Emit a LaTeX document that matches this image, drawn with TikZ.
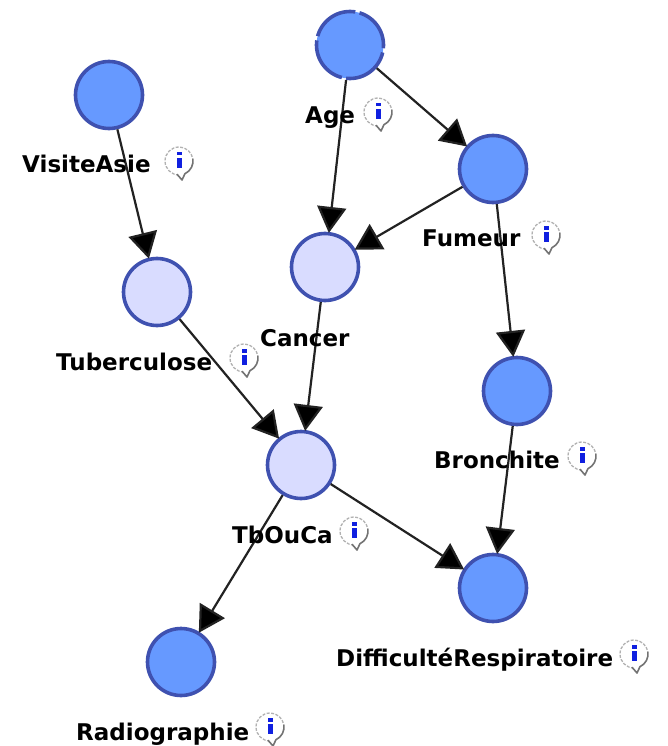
\documentclass[tikz,border=0pt]{standalone}
\usepackage{fontspec}
\setmainfont{DejaVu Sans}
\usetikzlibrary{arrows.meta}
\definecolor{ringc}{HTML}{3F51B0}
\definecolor{darkn}{HTML}{6699FF}
\definecolor{lightn}{HTML}{D9DCFF}
\definecolor{edgec}{HTML}{222222}
\definecolor{iblue}{HTML}{1020E0}
\tikzset{
 bn/.style={circle,draw=ringc,line width=3.6pt,minimum size=67pt,inner sep=0pt},
 dk/.style={bn,fill=darkn},
 lt/.style={bn,fill=lightn},
 lab/.style={inner sep=0pt,font=\fontsize{23}{23}\selectfont\bfseries,text=black,anchor=base west},
 edge/.style={draw=edgec,line width=2.2pt,-{Triangle[length=26pt,width=29pt,fill=black]},shorten >=-1pt},
 pics/infoicon/.style={code={
   \fill[white] (0,0) circle (14pt);
   \draw[black!30,line width=1.3pt,dash pattern=on 3pt off 1.5pt] (0,14) arc[start angle=90,end angle=350,radius=14];
   \fill[white,draw=black!55,line width=1.6pt,line join=round] (13.8,-2.4) arc[start angle=-10,end angle=65,radius=14] -- (3,19) -- (-2,13.2);
   \fill[iblue] (-2.5,-9) rectangle (2.5,-5.5);
   \fill[iblue] (-2.5,-3) rectangle (2.5,7);
 }}
}
\begin{document}
\begin{tikzpicture}[x=1pt,y=-1pt]
\useasboundingbox (0,0) rectangle (667,746);
\fill[white] (0,0) rectangle (667,746);
\node[dk] (visite) at (109,95) {};
\node[bn,draw=none,fill=darkn] (age) at (350,45) {};
\draw[ringc,line width=3.6pt,dash pattern=on 49pt off 4.3pt,dash phase=6pt] (age.center) ++(33.5,0) arc[start angle=0,end angle=-360,radius=33.5];
\node[dk] (fumeur) at (493,169) {};
\node[lt] (cancer) at (325,267) {};
\node[lt] (tuber) at (157,292) {};
\node[dk] (bronch) at (517,391) {};
\node[lt] (tbouca) at (301,465) {};
\node[dk] (diff) at (493,588) {};
\node[dk] (radio) at (181,662) {};
\draw[edge] (visite) -- (tuber);
\draw[edge] (age) -- (cancer);
\draw[edge] (age) -- (fumeur);
\draw[edge] (fumeur) -- (cancer);
\draw[edge] (fumeur) -- (bronch);
\draw[edge] (cancer) -- (tbouca);
\draw[edge] (tuber) -- (tbouca);
\draw[edge] (bronch) -- (diff);
\draw[edge] (tbouca) -- (diff);
\draw[edge] (tbouca) -- (radio);
\node[lab] (lvisite) at (22,172) {VisiteAsie};
\node[lab] (lage) at (305,124) {Age};
\node[lab] (lfumeur) at (422,246) {Fumeur};
\node[lab] (lcancer) at (260,346) {Cancer};
\node[lab] (ltuber) at (56,370) {Tuberculose};
\node[lab] (lbronch) at (434,468) {Bronchite};
\node[lab] (ltb) at (232,543) {TbOuCa};
\node[lab] (ldiff) at (336,666) {DifficultéRespiratoire};
\node[lab] (lradio) at (76,740) {Radiographie};
\pic at (378,112) {infoicon};
\pic at (179,161) {infoicon};
\pic at (546,235) {infoicon};
\pic at (244,358) {infoicon};
\pic at (582,456) {infoicon};
\pic at (354,531) {infoicon};
\pic at (634,654) {infoicon};
\pic at (270,727) {infoicon};
\end{tikzpicture}
\end{document}
